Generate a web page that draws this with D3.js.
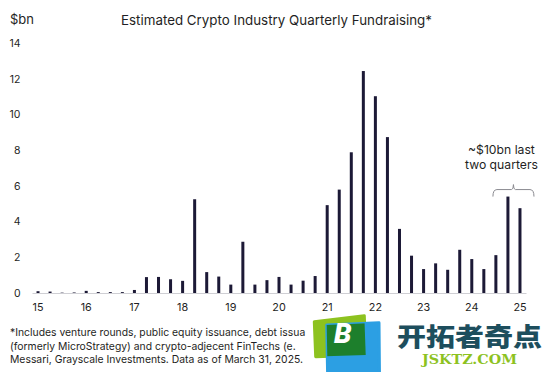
<!DOCTYPE html>
<html><head><meta charset="utf-8">
<script src="https://cdn.jsdelivr.net/npm/d3@7"></script>
<style>
body{margin:0;background:#fff}
svg{display:block}
text{font-family:Inter,"Noto Sans",sans-serif;fill:#1f1f24}
</style>
</head><body>
<svg id="c" width="555" height="372"></svg>
<script>
// ---------- data ----------
const quarters = [
 "2015Q1","2015Q2","2015Q3","2015Q4",
 "2016Q1","2016Q2","2016Q3","2016Q4",
 "2017Q1","2017Q2","2017Q3","2017Q4",
 "2018Q1","2018Q2","2018Q3","2018Q4",
 "2019Q1","2019Q2","2019Q3","2019Q4",
 "2020Q1","2020Q2","2020Q3","2020Q4",
 "2021Q1","2021Q2","2021Q3","2021Q4",
 "2022Q1","2022Q2","2022Q3","2022Q4",
 "2023Q1","2023Q2","2023Q3","2023Q4",
 "2024Q1","2024Q2","2024Q3","2024Q4",
 "2025Q1"];
const fundraising = [
 0.10,0.08,0.02,0.03,
 0.12,0.05,0.05,0.05,
 0.17,0.89,0.90,0.77,
 0.68,5.25,1.17,0.92,
 0.47,2.87,0.47,0.72,
 0.90,0.47,0.69,0.95,
 4.92,5.79,7.88,12.43,
 11.02,8.73,3.59,2.09,
 1.34,1.66,1.30,2.42,
 1.90,1.34,2.12,5.40,
 4.75];
const xTickQuarters = ["2015Q1","2016Q1","2017Q1","2018Q1","2019Q1","2020Q1","2021Q1","2022Q1","2023Q1","2024Q1","2025Q1"];
const xTickLabels = ["15","16","17","18","19","20","21","22","23","24","25"];
const yTicks = [0,2,4,6,8,10,12,14];
const titleText = "Estimated Crypto Industry Quarterly Fundraising*";
const unitText = "$bn";
const noteLines = [
 "~$10bn last",
 "two quarters"];
const bracketQuarters = ["2024Q4","2025Q1"];
const footnote = [
 "*Includes venture rounds, public equity issuance, debt issua",
 "(formerly MicroStrategy) and crypto-adjecent FinTechs (e.",
 "Messari, Grayscale Investments. Data as of March 31, 2025."];

// ---------- chart ----------
const svg = d3.select("#c");
const x = d3.scaleBand().domain(quarters).range([32,526]);
const y = d3.scaleLinear().domain([0,14]).range([293,43]);
const barW = 3;

// title & unit
svg.append("text").attr("x",121).attr("y",25).attr("font-size",13.5)
  .attr("textLength",311).attr("lengthAdjust","spacingAndGlyphs").text(titleText);
svg.append("text").attr("x",10).attr("y",24).attr("font-size",13).text(unitText);

// y axis labels
const yAxis = d3.axisLeft(y).tickValues(yTicks).tickSize(0).tickPadding(0);
const gy = svg.append("g").attr("transform","translate(20.5,0)").call(yAxis);
gy.select(".domain").remove();
gy.selectAll("text").attr("font-size",10.5).attr("font-family","Inter,'Noto Sans',sans-serif").attr("fill","#1f1f24");

// x axis
const lbl = new Map(xTickQuarters.map((q,i)=>[q,xTickLabels[i]]));
const xAxis = d3.axisBottom(x).tickValues(xTickQuarters).tickFormat(q=>lbl.get(q)).tickSize(0).tickPadding(10.5);
const gx = svg.append("g").attr("transform","translate(0,293)").call(xAxis);
gx.select(".domain").attr("stroke","#cfcfd4").attr("stroke-width",1);
gx.selectAll("text").attr("font-size",10.8).attr("font-family","Inter,'Noto Sans',sans-serif").attr("fill","#1f1f24");

// bars
svg.append("g").selectAll("rect").data(quarters).join("rect")
  .attr("x",q=>x(q)+x.bandwidth()/2-barW/2)
  .attr("width",barW)
  .attr("y",(q,i)=>y(fundraising[i]))
  .attr("height",(q,i)=>y(0)-y(fundraising[i]))
  .attr("fill","#1c1936");

// annotation
const cx0 = x(bracketQuarters[0])+x.bandwidth()/2;
const cx1 = x(bracketQuarters[1])+x.bandwidth()/2;
const bl = cx0-15, br = cx1+14, bm=(bl+br)/2, by = y(5.40)-7;
svg.append("path")
  .attr("d",`M${bl},${by+7} Q${bl},${by} ${bl+4},${by} L${bm-2},${by} Q${bm},${by} ${bm},${by-5} Q${bm},${by} ${bm+2},${by} L${br-4},${by} Q${br},${by} ${br},${by+7}`)
  .attr("fill","none").attr("stroke","#8a8a90").attr("stroke-width",1);
svg.append("g").selectAll("text").data(noteLines).join("text")
  .attr("text-anchor","middle").attr("font-size",12.2)
  .attr("x",bm-12).attr("y",(d,i)=>153.5+i*15).text(d=>d);

// footnote
const ft = svg.append("g").selectAll("text").data(footnote).join("text")
  .attr("x",10).attr("y",(d,i)=>336+i*13.5).attr("font-size",10.8).text(d=>d);
const nodes = ft.nodes();
const ref = nodes[2].getComputedTextLength();
const s = 293/ref;
nodes.forEach(n=>{ d3.select(n).attr("textLength",n.getComputedTextLength()*s).attr("lengthAdjust","spacingAndGlyphs"); });

// watermark logo
const wm = svg.append("g");
const green = "M314.3,321.7 L364.3,315.7 L365.7,355 L315.7,356.7 Z";
const blue = "M326.7,325 L379,322.7 L379.5,378 L327.7,378 Z";
const defs = svg.append("defs");
defs.append("clipPath").attr("id","bclip").append("path").attr("d",blue);
wm.append("path").attr("d",green).attr("fill","#8dc21f").attr("stroke","#8dc21f").attr("stroke-width",3).attr("stroke-linejoin","round");
wm.append("path").attr("d",blue).attr("fill","#2c9fe3").attr("stroke","#2c9fe3").attr("stroke-width",3).attr("stroke-linejoin","round");
wm.append("path").attr("d",green).attr("clip-path","url(#bclip)").attr("fill","#1d7f2c");
wm.append("text").attr("x",334).attr("y",343).attr("font-size",28).attr("font-weight",900)
  .attr("font-style","italic").style("font-family","Roboto,'DejaVu Sans',sans-serif").style("fill","#ffffff").text("B");
wm.append("text").attr("x",397).attr("y",345.5).attr("font-size",25.5).attr("font-weight",900)
  .style("font-family","'Noto Sans CJK SC',sans-serif").style("fill","#1d4e5d")
  .attr("textLength",145).attr("lengthAdjust","spacingAndGlyphs").text("开拓者奇点");
wm.append("text").attr("x",422).attr("y",364).attr("font-size",13).attr("font-weight",700)
  .style("font-family","'DejaVu Serif',serif").style("fill","#8dc21f")
  .attr("textLength",95).attr("lengthAdjust","spacingAndGlyphs").text("JSKTZ.COM");
</script>
</body></html>
